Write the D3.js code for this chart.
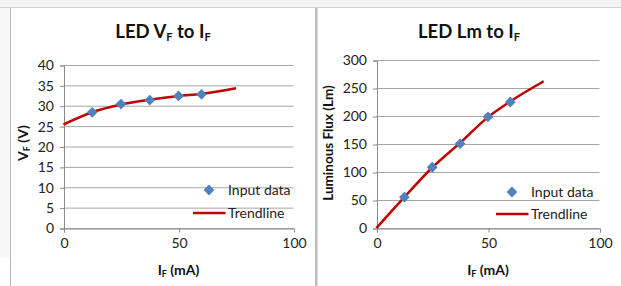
<!DOCTYPE html>
<html><head><meta charset="utf-8">
<script src="https://cdn.jsdelivr.net/npm/d3@7"></script>
<style>
body{margin:0;background:#fff;}
svg text{font-family:Lato,"Open Sans",sans-serif;}
</style></head>
<body><svg id="c" width="621" height="286"></svg>
<script>
// Data
const inputCurrent = [12.5, 25, 37.5, 50, 60];
const inputVf = [28.4, 30.4, 31.4, 32.4, 32.8];
const inputLm = [55, 108.5, 150.5, 198.5, 225];
const trendCurrent = [0, 12.5, 25, 37.5, 50, 60, 75];
const trendVf = [25.4, 28.4, 30.3, 31.5, 32.4, 32.9, 34.3];
const trendLm = [0, 55, 108, 152, 198, 226, 262];
const xTicks = [0, 50, 100];
const vfTicks = [0, 5, 10, 15, 20, 25, 30, 35, 40];
const lmTicks = [0, 50, 100, 150, 200, 250, 300];
const legendLabels = ["Input data", "Trendline"];

const svg = d3.select("#c");
// background frame
svg.append("rect").attr("x",0).attr("y",0).attr("width",621).attr("height",7).attr("fill","#f3f3f3");
svg.append("line").attr("x1",0).attr("x2",621).attr("y1",7.5).attr("y2",7.5).attr("stroke","#d0d0d0");
svg.append("rect").attr("x",0).attr("y",8).attr("width",10).attr("height",250).attr("fill","#f7f7f7");
svg.append("line").attr("x1",10.5).attr("x2",10.5).attr("y1",8).attr("y2",286).attr("stroke","#b8b8b8");
svg.append("rect").attr("x",315).attr("y",8).attr("width",2.5).attr("height",278).attr("fill","#bdbdbd");

function chart(o){
  const g = svg.append("g");
  const x = d3.scaleLinear().domain([0,100]).range([o.x0,o.x1]);
  const y = d3.scaleLinear().domain([0,o.ymax]).range([o.y0,o.y1]);
  // gridlines
  g.selectAll(".grid").data(o.yTicks).enter().append("line")
    .attr("x1",o.x0).attr("x2",o.x1).attr("y1",d=>y(d)+0.5).attr("y2",d=>y(d)+0.5)
    .attr("stroke","#a6a6a6").attr("stroke-width",1);
  // y axis
  const ya = g.append("g").attr("transform",`translate(${o.x0+0.5},0.5)`)
    .call(d3.axisLeft(y).tickValues(o.yTicks).tickSize(4).tickPadding(6));
  ya.select(".domain").attr("stroke","#8c8c8c");
  ya.selectAll(".tick line").attr("stroke","#8c8c8c");
  ya.selectAll("text").attr("font-size",14).attr("fill","#222").attr("font-family","Lato");
  // x axis
  const xa = g.append("g").attr("transform",`translate(0.5,${o.y0+0.5})`)
    .call(d3.axisBottom(x).tickValues(xTicks).tickSize(4).tickPadding(6));
  xa.select(".domain").attr("stroke","#8c8c8c");
  xa.selectAll(".tick line").attr("stroke","#8c8c8c");
  xa.selectAll("text").attr("font-size",14).attr("fill","#222").attr("font-family","Lato");
  // trendline
  const line = d3.line().x((d,i)=>x(trendCurrent[i])).y(d=>y(d)).curve(d3.curveMonotoneX);
  g.append("path").attr("d",line(o.trend)).attr("fill","none").attr("stroke","#c00000").attr("stroke-width",2.5);
  // points
  const sq = d3.symbol().type(d3.symbolSquare).size(58);
  g.selectAll(".pt").data(o.pts).enter().append("path")
    .attr("d",sq()).attr("fill","#4f81bd")
    .attr("transform",(d,i)=>`translate(${x(inputCurrent[i])},${y(d)}) rotate(45)`);
  // title
  const t = g.append("text").attr("x",o.tx).attr("y",38).attr("text-anchor","middle")
    .attr("font-size",18.5).attr("font-weight","bold").attr("fill","#111");
  o.title(t);
  // x label
  const xl = g.append("text").attr("x",(o.x0+o.x1)/2).attr("y",275).attr("text-anchor","middle")
    .attr("font-size",14).attr("font-weight","bold").attr("fill","#111");
  xl.append("tspan").text("I");
  xl.append("tspan").attr("font-size",9).attr("dy",2).text("F");
  xl.append("tspan").attr("dy",-2).text(" (mA)");
  // y label
  const yl = g.append("text").attr("transform",`translate(${o.ylx},${o.yly}) rotate(-90)`)
    .attr("text-anchor","middle").attr("font-size",o.ylfs).attr("font-weight","bold").attr("fill","#111");
  o.ylabel(yl);
  // legend
  g.append("path").attr("d",sq()).attr("fill","#4f81bd")
    .attr("transform",`translate(${o.lx},${o.ly1}) rotate(45)`);
  g.append("text").attr("x",o.ltx).attr("y",o.ly1+5).attr("font-size",14).attr("fill","#222").text(legendLabels[0]);
  g.append("line").attr("x1",o.lx-16).attr("x2",o.lx+16.5).attr("y1",o.ly2).attr("y2",o.ly2)
    .attr("stroke","#c00000").attr("stroke-width",2.5);
  g.append("text").attr("x",o.ltx).attr("y",o.ly2+5).attr("font-size",14).attr("fill","#222").text(legendLabels[1]);
}

chart({x0:63.5,x1:293.5,y0:228,y1:65,ymax:40,yTicks:vfTicks,pts:inputVf,trend:trendVf,tx:163,
  title:t=>{t.append("tspan").text("LED V");t.append("tspan").attr("font-size",11).attr("dy",3).text("F");
    t.append("tspan").attr("dy",-3).text(" to I");t.append("tspan").attr("font-size",11).attr("dy",3).text("F");},
  ylx:28,yly:143,ylfs:14,
  ylabel:t=>{t.append("tspan").text("V");t.append("tspan").attr("font-size",9).attr("dy",2).text("F");
    t.append("tspan").attr("dy",-2).text(" (V)");},
  lx:209,ly1:190,ltx:228,ly2:213});

chart({x0:376.5,x1:599.5,y0:228,y1:60,ymax:300,yTicks:lmTicks,pts:inputLm,trend:trendLm,tx:469,
  title:t=>{t.append("tspan").text("LED Lm to I");t.append("tspan").attr("font-size",11).attr("dy",3).text("F");},
  ylx:333,yly:143,ylfs:13.5,
  ylabel:t=>{t.text("Luminous Flux (Lm)");},
  lx:512,ly1:192,ltx:531,ly2:214});
</script></body></html>
